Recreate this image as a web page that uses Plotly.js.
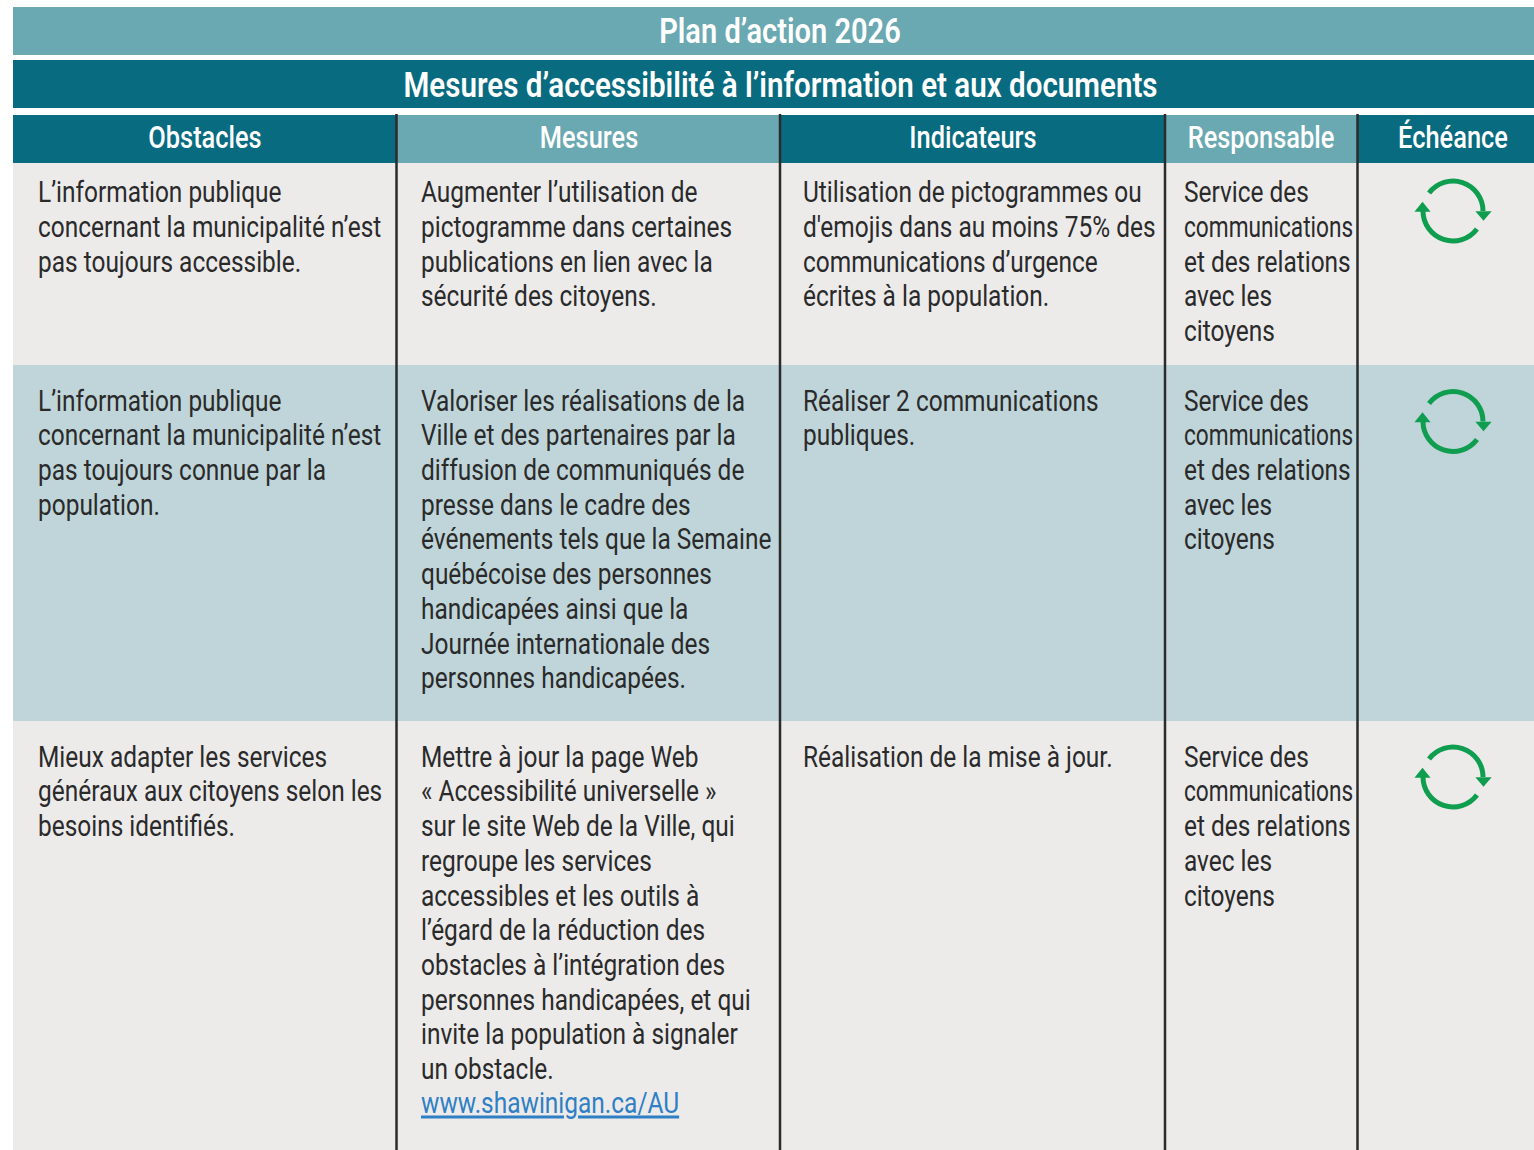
<!DOCTYPE html>
<html><head><meta charset="utf-8">
<script src="https://cdn.plot.ly/plotly-3.0.1.min.js"></script>
<style>html,body{margin:0;padding:0;background:#fff}</style></head>
<body><div id="chart" style="width:1534px;height:1150px"></div>
<script>
const planTitle = "Plan d’action 2026";
const sectionTitle = "Mesures d’accessibilité à l’information et aux documents";
const headers = ["Obstacles","Mesures","Indicateurs","Responsable","Échéance"];
const responsable = ["Service des","communications","et des relations","avec les","citoyens"];
const row1 = [
 ["L’information publique","concernant la municipalité n’est","pas toujours accessible."],
 ["Augmenter l’utilisation de","pictogramme dans certaines","publications en lien avec la","sécurité des citoyens."],
 ["Utilisation de pictogrammes ou","d'emojis dans au moins 75% des","communications d’urgence","écrites à la population."],
 responsable];
const row2 = [
 ["L’information publique","concernant la municipalité n’est","pas toujours connue par la","population."],
 ["Valoriser les réalisations de la","Ville et des partenaires par la","diffusion de communiqués de","presse dans le cadre des","événements tels que la Semaine","québécoise des personnes","handicapées ainsi que la","Journée internationale des","personnes handicapées."],
 ["Réaliser 2 communications","publiques."],
 responsable];
const row3 = [
 ["Mieux adapter les services","généraux aux citoyens selon les","besoins identifiés."],
 ["Mettre à jour la page Web","« Accessibilité universelle »","sur le site Web de la Ville, qui","regroupe les services","accessibles et les outils à","l’égard de la réduction des","obstacles à l’intégration des","personnes handicapées, et qui","invite la population à signaler","un obstacle."],
 ["Réalisation de la mise à jour."],
 responsable];
const linkText = "www.shawinigan.ca/AU";

const FONT = "Roboto";
const DARK="#086b7f", LIGHT="#6aa8b2", GREY="#ecebea", BLUE="#bfd5d9", INK="#2a2a2a", GREEN="#0f9d4f";
const colEdges=[13,396.5,780,1165,1357.5,1534];
const textX=[38,421,803,1184];
const rows=[{top:163,bottom:365,data:row1,first:194.8,icon:211},{top:365,bottom:721,data:row2,first:403.2,icon:421.5},{top:721,bottom:1150,data:row3,first:759.3,icon:777}];
const lineStep=34.7;
const squeezeByTrace=[0.815,0.816,0.84,0.82];
const squeezeByText={[planTitle]:0.83,[sectionTitle]:0.845,"communications":0.755};

const shapes=[];
const rect=(x0,y0,x1,y1,c)=>shapes.push({type:"rect",xref:"x",yref:"y",x0,y0,x1,y1,fillcolor:c,line:{width:0},layer:"below"});
rect(13,7,1534,55,LIGHT); rect(13,60,1534,108,DARK);
headers.forEach((h,i)=>rect(colEdges[i],115,colEdges[i+1],163,i%2?LIGHT:DARK));
rows.forEach((r,i)=>rect(13,r.top,1534,r.bottom,i%2?BLUE:GREY));
colEdges.slice(1,5).forEach(x=>shapes.push({type:"line",xref:"x",yref:"y",x0:x,x1:x,y0:114,y1:1150,line:{color:"#2b2b2b",width:2.5}}));

function arc(cx,cy,r,a0,a1){
  const n=Math.ceil(Math.abs(a1-a0)/(Math.PI/4)), d=(a1-a0)/n, k=4/3*Math.tan(d/4);
  let p=`M${cx+r*Math.cos(a0)},${cy+r*Math.sin(a0)}`;
  for(let i=0;i<n;i++){const a=a0+i*d,b=a+d;
    p+=` C${cx+r*(Math.cos(a)-k*Math.sin(a))},${cy+r*(Math.sin(a)+k*Math.cos(a))} ${cx+r*(Math.cos(b)+k*Math.sin(b))},${cy+r*(Math.sin(b)-k*Math.cos(b))} ${cx+r*Math.cos(b)},${cy+r*Math.sin(b)}`;}
  return p;
}
function icon(cx,cy){
  const R=30,deg=Math.PI/180;
  const ln={color:GREEN,width:5};
  shapes.push({type:"path",xref:"x",yref:"y",path:arc(cx,cy,R,217*deg,360*deg),line:ln});
  shapes.push({type:"path",xref:"x",yref:"y",path:arc(cx,cy,R,37*deg,180*deg),line:ln});
  shapes.push({type:"path",xref:"x",yref:"y",path:`M${cx+24},${cy+1} L${cx+37},${cy+1} L${cx+30.5},${cy+8.5} Z`,fillcolor:GREEN,line:{color:GREEN,width:1.5}});
  shapes.push({type:"path",xref:"x",yref:"y",path:`M${cx-37},${cy} L${cx-24},${cy} L${cx-30.5},${cy-8} Z`,fillcolor:GREEN,line:{color:GREEN,width:1.5}});
}
rows.forEach(r=>icon(1453,r.icon));

const body={x:[],y:[],text:[]};
rows.forEach(r=>r.data.forEach((cell,c)=>cell.forEach((t,l)=>{body.x.push(textX[c]);body.y.push(r.first+l*lineStep);body.text.push(t);})));
const base={type:"scatter",mode:"text",hoverinfo:"skip",showlegend:false,cliponaxis:false};
const traces=[
 {...base,x:body.x,y:body.y,text:body.text,textposition:"middle right",textfont:{family:FONT,size:30,color:INK}},
 {...base,x:[421],y:[1105.8],text:["<u>"+linkText+"</u>"],textposition:"middle right",textfont:{family:FONT,size:30,color:"#2f7fc4"}},
 {...base,x:[780,780.5],y:[34,88],text:[planTitle,sectionTitle],textposition:"middle center",textfont:{family:FONT,size:35,color:"#ffffff",weight:600}},
 {...base,x:[205,589,973,1261,1453],y:[140.5,140.5,140.5,140.5,140.5],text:headers,textposition:"middle center",textfont:{family:FONT,size:31,color:"#ffffff",weight:500}}
];
Plotly.newPlot("chart",traces,{
 width:1534,height:1150,margin:{l:0,r:0,t:0,b:0},paper_bgcolor:"#fff",plot_bgcolor:"#fff",showlegend:false,
 xaxis:{range:[0,1534],visible:false,fixedrange:true},
 yaxis:{range:[1150,0],visible:false,fixedrange:true},
 shapes
},{displayModeBar:false,responsive:false}).then(gd=>{
  gd.querySelectorAll(".scatterlayer .trace").forEach((tr,i)=>{
    tr.querySelectorAll(".textpoint text").forEach(t=>{
      const x=parseFloat(t.getAttribute("x"));
      const isResp=Math.abs(x-textX[3])<1;
      const key=t.textContent;
      const s=(key==="communications"&&!isResp)?squeezeByTrace[i]:(squeezeByText[key]||squeezeByTrace[i]);
      t.setAttribute("transform",`translate(${x},0) scale(${s},1) translate(${-x},0)`);
    });
  });
});
</script></body></html>
